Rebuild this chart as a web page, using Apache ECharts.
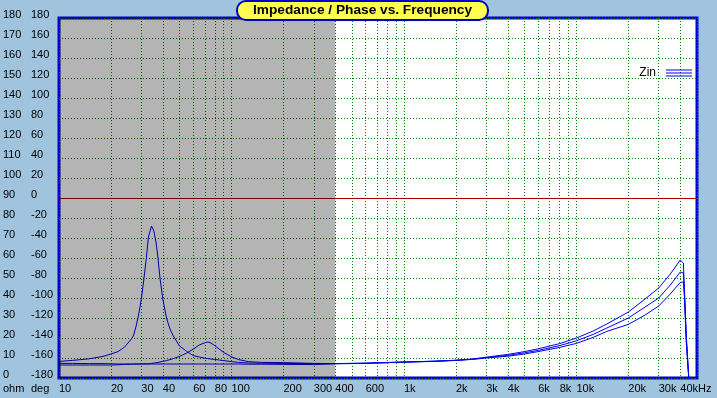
<!DOCTYPE html>
<html>
<head>
<meta charset="utf-8">
<script src="https://cdn.jsdelivr.net/npm/echarts@6/dist/echarts.min.js"></script>
<style>
html, body { margin: 0; padding: 0; background: #a0c4de; }
#chart { width: 717px; height: 398px; }
</style>
</head>
<body>
<div id="chart"></div>
<script>
// frequencies (Hz) shared by the three impedance curves
var freqs = [10, 12, 15, 18, 20, 22, 24, 26, 27, 28, 29, 30, 31, 32, 33, 34.4, 35.5, 36.5, 37.5, 38.5,
    40, 42, 44, 46, 50, 55, 60, 65, 70, 73, 76, 80, 85, 90, 100, 110, 125, 150, 200, 300,
    400, 600, 1000, 1500, 2000, 2500, 3000, 4000, 5000, 6000, 8000, 10000, 12500, 15000, 20000,
    25000, 30000, 35000, 40000, 41000, 41700, 42300, 43300, 44800];

// impedance in ohm
var zinA = [8.3, 8.8, 9.6, 10.8, 12, 13.2, 15.5, 19, 21, 26, 32, 39.3, 49, 59, 70.5, 76, 73.5, 68, 60, 50,
    39.5, 30, 24.5, 21, 16, 13.3, 11.2, 10.5, 9.9, 9.7, 9.5, 9.3, 9.0, 8.7, 8.2, 7.8, 7.5, 7.4, 7.3, 7.2,
    7.2, 7.4, 8.0, 8.4, 8.9, 9.5, 10.4, 11.8, 13.2, 14.6, 17.2, 20.0, 23.5, 27.0, 33.0,
    39.5, 45.0, 52.0, 59.0, 59.7, 57.5, 42.0, 20.0, 0];
var zinB = [7.3, 7.3, 7.2, 7.2, 7.1, 7.0, 7.0, 7.0, 7.0, 7.0, 7.0, 7.0, 7.1, 7.1, 7.1, 7.3, 7.5, 7.6, 7.8, 8.0,
    8.3, 8.7, 9.2, 9.7, 10.8, 12.5, 14.4, 16.5, 17.6, 18.0, 17.5, 16.2, 14.4, 12.8, 10.6, 9.2, 8.2, 7.8, 7.7, 7.3,
    7.2, 7.4, 8.0, 8.4, 8.8, 9.4, 10.2, 11.3, 12.6, 13.8, 16.2, 18.6, 21.8, 25.0, 30.0,
    35.5, 40.0, 46.5, 53.0, 54.0, 52.5, 44.0, 22.0, 0];
var zinC = [6.5, 6.5, 6.5, 6.5, 6.5, 6.6, 6.8, 6.9, 6.9, 7.0, 7.0, 7.0, 7.0, 7.0, 7.0, 7.0, 7.0, 7.0, 7.0, 7.0,
    7.0, 7.0, 7.0, 7.0, 7.0, 7.0, 7.0, 7.0, 7.0, 7.0, 7.0, 7.0, 7.0, 7.0, 7.0, 7.0, 6.9, 6.9, 6.8, 6.7,
    7.1, 7.3, 7.9, 8.3, 8.8, 9.3, 10.0, 10.9, 12.0, 13.2, 15.3, 17.3, 20.3, 23.3, 26.8,
    31.5, 36.0, 42.0, 47.8, 48.3, 48.0, 40.0, 18.0, 0];

var xTickLabels = [10, 20, 30, 40, 60, 80, 100, 200, 300, 400, 600, 1000, 2000, 3000, 4000, 6000, 8000,
    10000, 20000, 30000, 40000];
var xGridLines = [10, 20, 30, 40, 50, 60, 70, 80, 90, 100, 200, 300, 400, 500, 600, 700, 800, 900,
    1000, 2000, 3000, 4000, 5000, 6000, 7000, 8000, 9000, 10000, 20000, 30000, 40000, 50000];

var font = "'Liberation Sans', Arial, sans-serif";
var gridGreen = '#008000';
var curveBlue = '#0000ee';

function pairs(ys) {
    return freqs.map(function (f, i) { return [f, ys[i]]; });
}

function freqLabel(v) {
    v = Math.round(v);
    if (v >= 40000) return '40kHz';
    if (v >= 1000) return (v / 1000) + 'k';
    return String(v);
}

// labels sit a little above their grid line
var yLabel = {
    margin: 0,
    align: 'left',
    verticalAlign: 'bottom',
    lineHeight: 6,
    fontSize: 11,
    color: '#000'
};

var chart = echarts.init(document.getElementById('chart'));

var option = {
    backgroundColor: '#a0c4de',
    animation: false,
    textStyle: { fontFamily: font },
    title: {
        text: 'Impedance / Phase vs. Frequency',
        left: 237,
        top: 1,
        padding: [2, 16, 2, 16],
        backgroundColor: '#ffff50',
        borderColor: '#0000cc',
        borderWidth: 2,
        borderRadius: 9,
        z: 20,
        textStyle: { fontFamily: font, fontSize: 13.7, fontWeight: 'bold', color: '#000', lineHeight: 15 }
    },
    legend: {
        data: ['Zin'],
        right: 25,
        top: 64,
        padding: 0,
        align: 'right',
        itemWidth: 26,
        itemHeight: 7,
        icon: 'path://M0,0H26V1H0Z M0,3H26V4H0Z M0,6H26V7H0Z',
        itemStyle: { borderWidth: 0 },
        selectedMode: false,
        textStyle: {
            fontFamily: font, fontSize: 12, color: '#000',
            backgroundColor: 'rgba(0,0,0,0)',
            padding: [6, 5, 0, 0]
        }
    },
    grid: {
        left: 59, top: 18, width: 638, height: 360,
        show: true,
        backgroundColor: '#fff',
        borderColor: '#0000cc',
        borderWidth: 3
    },
    xAxis: {
        type: 'log',
        logBase: 10,
        min: 10,
        max: 50000,
        axisLine: { show: false },
        axisTick: { show: false, customValues: xGridLines },
        splitLine: { show: true, lineStyle: { color: gridGreen, type: [1, 2], width: 1 } },
        axisLabel: {
            customValues: xTickLabels,
            formatter: freqLabel,
            align: 'left',
            margin: 5,
            fontSize: 11,
            color: '#000'
        }
    },
    yAxis: [{
        type: 'value',
        min: 0, max: 180, interval: 10,
        position: 'left',
        offset: 56,
        name: 'ohm',
        nameLocation: 'start',
        nameGap: 5,
        nameTextStyle: { align: 'left', verticalAlign: 'top', fontSize: 11, color: '#000' },
        axisLine: { show: false },
        axisTick: { show: false },
        axisLabel: yLabel,
        splitLine: { show: true, lineStyle: { color: gridGreen, type: [1, 2], width: 1 } }
    }, {
        type: 'value',
        min: -180, max: 180, interval: 20,
        position: 'left',
        offset: 28,
        name: 'deg',
        nameLocation: 'start',
        nameGap: 5,
        nameTextStyle: { align: 'left', verticalAlign: 'top', fontSize: 11, color: '#000' },
        axisLine: { show: false },
        axisTick: { show: false },
        axisLabel: yLabel,
        splitLine: { show: false }
    }],
    series: [{
        name: 'Zin',
        type: 'line',
        data: pairs(zinA),
        showSymbol: false,
        color: curveBlue,
        lineStyle: { width: 1, color: curveBlue },
        markLine: {
            silent: true,
            symbol: ['none', 'none'],
            label: { show: false },
            lineStyle: { color: '#a00000', type: 'solid', width: 1 },
            data: [{ yAxis: 90 }]
        }
    }, {
        name: 'Zin',
        type: 'line',
        data: pairs(zinB),
        showSymbol: false,
        color: curveBlue,
        lineStyle: { width: 1, color: curveBlue }
    }, {
        name: 'Zin',
        type: 'line',
        data: pairs(zinC),
        showSymbol: false,
        color: curveBlue,
        lineStyle: { width: 1, color: curveBlue }
    }, {
        // grey band 10 - 400 Hz drawn over the curves
        name: 'shade',
        type: 'line',
        data: [],
        silent: true,
        z: 10,
        markArea: {
            silent: true,
            z: 10,
            itemStyle: { color: 'rgba(0,0,0,0.294)' },
            data: [[{ xAxis: 10 }, { xAxis: 400 }]]
        }
    }]
};

chart.setOption(option);
</script>
</body>
</html>
